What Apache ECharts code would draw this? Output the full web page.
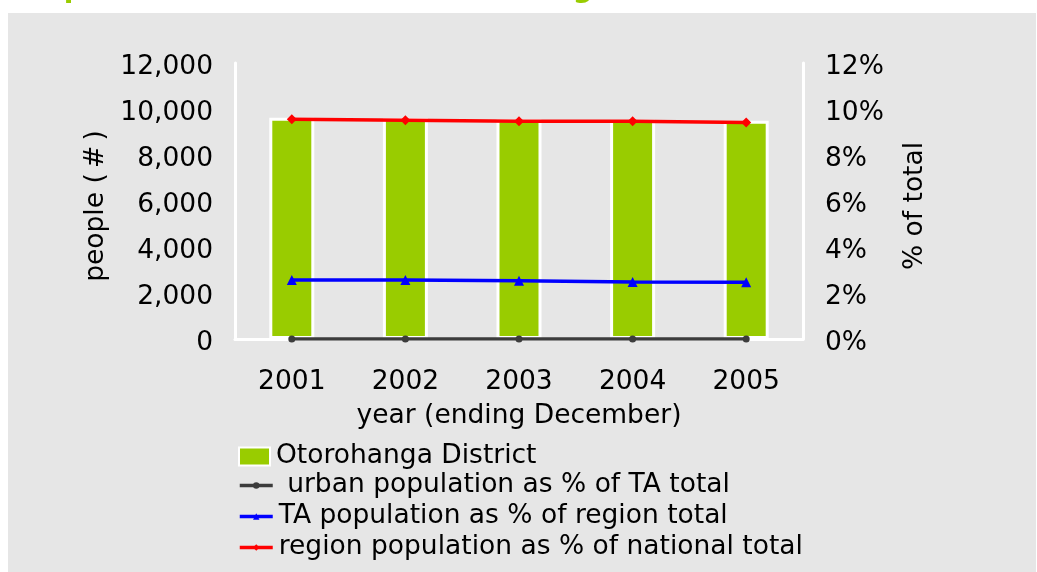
<!DOCTYPE html>
<html>
<head>
<meta charset="utf-8">
<script src="https://cdn.jsdelivr.net/npm/echarts@6/dist/echarts.min.js"></script>
<style>
  html, body { margin: 0; padding: 0; background: #ffffff; }
  #chart { width: 1037px; height: 572px; }
</style>
</head>
<body>
<div id="chart"></div>
<script>
  // 数据
  const years = ['2001', '2002', '2003', '2004', '2005'];
  const districtPeople = [9620, 9610, 9555, 9530, 9490];
  const urbanPct = [0, 0, 0, 0, 0];
  const taPct = [2.57, 2.57, 2.53, 2.48, 2.47];
  const regionPct = [9.55, 9.51, 9.47, 9.47, 9.41];
  const leftTicks = [0, 12000, 2000];
  const rightTicks = [0, 12, 2];

  const font = 'DejaVu Sans';
  const fs = 26.5;
  const chart = echarts.init(document.getElementById('chart'));

  const legendText = { fontFamily: font, fontSize: fs, color: '#000', padding: [0, 0, 0, 1], lineHeight: 26 };
  // 刻度标签稍微下移
  const tickRich = { t: { fontFamily: font, fontSize: fs, color: '#000', padding: [8, 0, 0, 0] } };

  const option = {
    backgroundColor: '#ffffff',
    animation: false,
    title: {
      text: 'Population estimates for Otorohanga District',
      left: 24,
      top: -24,
      padding: 0,
      textStyle: { color: '#99cc00', fontFamily: font, fontWeight: 'bold', fontSize: 28 }
    },
    graphic: [{
      type: 'rect',
      z: -10,
      shape: { x: 8, y: 13, width: 1028, height: 560 },
      style: { fill: '#e6e6e6' }
    }],
    grid: { left: 235, right: 234, top: 63, bottom: 233 },
    legend: [{
      // 柱状图图例
      orient: 'vertical',
      left: 233,
      top: 438,
      itemWidth: 31,
      itemHeight: 18,
      textStyle: legendText,
      data: [{ name: 'Otorohanga District', icon: 'rect' }]
    }, {
      // 折线图图例
      orient: 'vertical',
      left: 233,
      top: 467,
      itemWidth: 33,
      itemHeight: 8,
      itemGap: 4,
      lineStyle: { width: 3.5 },
      textStyle: legendText,
      data: [
        ' urban population as % of TA total',
        'TA population as % of region total',
        'region population as % of national total'
      ]
    }],
    xAxis: {
      type: 'category',
      data: years,
      name: 'year (ending December)',
      nameLocation: 'middle',
      nameGap: 64,
      nameTextStyle: { fontFamily: font, fontSize: fs, color: '#000' },
      axisLine: { lineStyle: { color: '#ffffff', width: 3 } },
      axisTick: { show: false },
      axisLabel: { fontFamily: font, fontSize: fs, color: '#000', margin: 30 }
    },
    yAxis: [{
      type: 'value',
      position: 'left',
      min: leftTicks[0],
      max: leftTicks[1],
      interval: leftTicks[2],
      name: 'people (\u2009#\u2009)',
      nameLocation: 'middle',
      nameRotate: 90,
      nameGap: 114,
      nameTextStyle: { fontFamily: font, fontSize: fs, color: '#000', padding: [0, 10, 0, 0] },
      axisLine: { show: true, lineStyle: { color: '#ffffff', width: 3 } },
      axisTick: { show: false },
      splitLine: { show: false },
      axisLabel: {
        margin: 22,
        rich: tickRich,
        formatter: v => '{t|' + v.toString().replace(/\B(?=(\d{3})+(?!\d))/g, ',') + '}'
      }
    }, {
      type: 'value',
      position: 'right',
      min: rightTicks[0],
      max: rightTicks[1],
      interval: rightTicks[2],
      name: '% of total',
      nameLocation: 'middle',
      nameRotate: 90,
      nameGap: 99,
      nameTextStyle: { fontFamily: font, fontSize: fs, color: '#000', padding: [0, 10, 0, 0] },
      axisLine: { show: true, lineStyle: { color: '#ffffff', width: 3 } },
      axisTick: { show: false },
      splitLine: { show: false },
      axisLabel: { margin: 22, rich: tickRich, formatter: '{t|{value}%}' }
    }],
    series: [{
      name: 'Otorohanga District',
      type: 'bar',
      yAxisIndex: 0,
      data: districtPeople,
      barWidth: 45,
      itemStyle: { color: '#99cc00', borderColor: '#ffffff', borderWidth: 3 }
    }, {
      name: ' urban population as % of TA total',
      type: 'line',
      yAxisIndex: 1,
      data: urbanPct,
      symbol: 'circle',
      symbolSize: 7,
      z: 5,
      lineStyle: { color: '#3c3c3c', width: 3.5 },
      itemStyle: { color: '#3c3c3c' }
    }, {
      name: 'TA population as % of region total',
      type: 'line',
      yAxisIndex: 1,
      data: taPct,
      symbol: 'triangle',
      symbolSize: 10,
      z: 5,
      lineStyle: { color: '#0000ff', width: 3.5 },
      itemStyle: { color: '#0000ff' }
    }, {
      name: 'region population as % of national total',
      type: 'line',
      yAxisIndex: 1,
      data: regionPct,
      symbol: 'diamond',
      symbolSize: 10,
      z: 5,
      lineStyle: { color: '#ff0000', width: 3.5 },
      itemStyle: { color: '#ff0000' }
    }]
  };

  chart.setOption(option);
</script>
</body>
</html>
